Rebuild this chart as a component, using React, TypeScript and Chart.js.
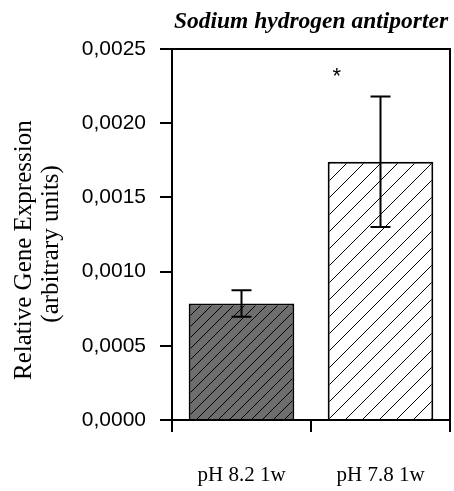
import { useEffect, useRef } from 'react';
import { Chart, registerables } from 'chart.js';

Chart.register(...registerables);

const chartTitle = 'Sodium hydrogen antiporter';
const yAxisTitle = ['Relative Gene Expression', '(arbitrary units)'];
const categories = ['pH 8.2 1w', 'pH 7.8 1w'];
const means = [0.000785, 0.00174];
const errors = [0.00009, 0.00044];
const significance = ['', '*'];
const yTickLabels = ['0,0000', '0,0005', '0,0010', '0,0015', '0,0020', '0,0025'];
const yMin = 0;
const yMax = 0.0025;
const yStep = 0.0005;

const SERIF = "'Liberation Serif', 'Times New Roman', serif";
const SANS = "'Liberation Sans', Arial, sans-serif";

// trailing spaces nudge each centred title line toward the axis bottom, as in the reference
const yTitleLines = [yAxisTitle[0] + '     ', yAxisTitle[1] + '   '];

function makeHatch(fill: string, spacing: number): CanvasPattern | string {
  const c = document.createElement('canvas');
  c.width = spacing;
  c.height = spacing;
  const ctx = c.getContext('2d');
  if (!ctx) return fill;
  ctx.fillStyle = fill;
  ctx.fillRect(0, 0, spacing, spacing);
  ctx.strokeStyle = '#000';
  ctx.lineWidth = 1;
  ctx.beginPath();
  ctx.moveTo(-1, spacing + 1);
  ctx.lineTo(spacing + 1, -1);
  ctx.moveTo(-2, 2);
  ctx.lineTo(2, -2);
  ctx.moveTo(spacing - 2, spacing + 2);
  ctx.lineTo(spacing + 2, spacing - 2);
  ctx.stroke();
  const p = ctx.createPattern(c, 'repeat');
  return p || fill;
}

const errorBarPlugin = {
  id: 'errorBars',
  afterDatasetsDraw(chart: any) {
    const meta = chart.getDatasetMeta(0);
    const yScale = chart.scales.y;
    const ctx = chart.ctx;
    ctx.save();
    ctx.strokeStyle = '#000';
    ctx.lineWidth = 2;
    meta.data.forEach((bar: any, i: number) => {
      const x = bar.x;
      const yTop = yScale.getPixelForValue(means[i] + errors[i]);
      const yBot = yScale.getPixelForValue(means[i] - errors[i]);
      ctx.beginPath();
      ctx.moveTo(x, yTop);
      ctx.lineTo(x, yBot);
      ctx.moveTo(x - 10, yTop);
      ctx.lineTo(x + 10, yTop);
      ctx.moveTo(x - 10, yBot);
      ctx.lineTo(x + 10, yBot);
      ctx.stroke();
      const mark = significance[i];
      if (mark) {
        ctx.fillStyle = '#000';
        ctx.font = `22px ${SANS}`;
        ctx.textAlign = 'center';
        ctx.textBaseline = 'alphabetic';
        ctx.fillText(mark, bar.x - bar.width / 2 + 9, yTop - 13);
      }
    });
    ctx.restore();
  },
};

export default function App() {
  const ref = useRef<HTMLCanvasElement | null>(null);
  useEffect(() => {
    const canvas = ref.current;
    if (!canvas) return;
    const patterns = [makeHatch('#6e6e6e', 11), makeHatch('#ffffff', 17)];
    const chart = new Chart(canvas, {
      type: 'bar',
      data: {
        labels: categories,
        datasets: [
          {
            data: means,
            backgroundColor: patterns as any,
            borderColor: '#000',
            borderWidth: 2,
            barPercentage: 0.76,
            categoryPercentage: 1,
          },
        ],
      },
      options: {
        responsive: false,
        animation: false,
        layout: { padding: { left: 0, right: 4, top: 0, bottom: 0 } },
        plugins: {
          legend: { display: false },
          tooltip: { enabled: false },
          title: {
            display: true,
            text: chartTitle,
            fullSize: false,
            color: '#000',
            font: { family: SERIF, size: 23.5, weight: 'bold', style: 'italic', lineHeight: 1.2 },
            padding: { top: 8, bottom: 12.8 },
          },
        },
        scales: {
          x: {
            type: 'category',
            position: 'bottom',
            offset: true,
            afterFit: (s: any) => {
              s.height = 71;
              s.paddingLeft = 0;
              s.paddingRight = 0;
            },
            grid: {
              offset: true,
              drawOnChartArea: false,
              drawTicks: true,
              tickLength: 12,
              color: '#000',
              lineWidth: 2,
            },
            border: { display: true, color: '#000', width: 2 },
            ticks: {
              color: '#000',
              padding: 31,
              font: { family: SERIF, size: 21 },
              maxRotation: 0,
            },
          },
          y: {
            type: 'linear',
            position: 'left',
            min: yMin,
            max: yMax,
            afterFit: (s: any) => { s.width = 172; },
            grid: {
              drawOnChartArea: false,
              drawTicks: true,
              tickLength: 12,
              color: '#000',
              lineWidth: 2,
            },
            border: { display: true, color: '#000', width: 2 },
            ticks: {
              stepSize: yStep,
              color: '#000',
              padding: 14,
              font: { family: SANS, size: 21 },
              callback: (v: any) => yTickLabels[Math.round((Number(v) - yMin) / yStep)] ?? '',
            },
            title: {
              display: true,
              text: yTitleLines,
              color: '#000',
              font: { family: SERIF, size: 25, lineHeight: 1.08 },
              padding: { top: 10.5, bottom: 0 },
            },
          },
          xTop: {
            type: 'linear',
            position: 'top',
            afterFit: (s: any) => { s.height = 0; },
            grid: { display: false, drawTicks: false },
            ticks: { display: false },
            border: { display: true, color: '#000', width: 2 },
          },
          yRight: {
            type: 'linear',
            position: 'right',
            afterFit: (s: any) => { s.width = 0; },
            grid: { display: false, drawTicks: false },
            ticks: { display: false },
            border: { display: true, color: '#000', width: 2 },
          },
        },
      },
      plugins: [errorBarPlugin],
    });
    return () => chart.destroy();
  }, []);
  return (
    <div style={{ position: 'fixed', left: 0, top: 0, width: 454, height: 491, background: '#fff' }}>
      <canvas ref={ref} width={454} height={491} style={{ width: 454, height: 491, display: 'block' }} />
    </div>
  );
}
